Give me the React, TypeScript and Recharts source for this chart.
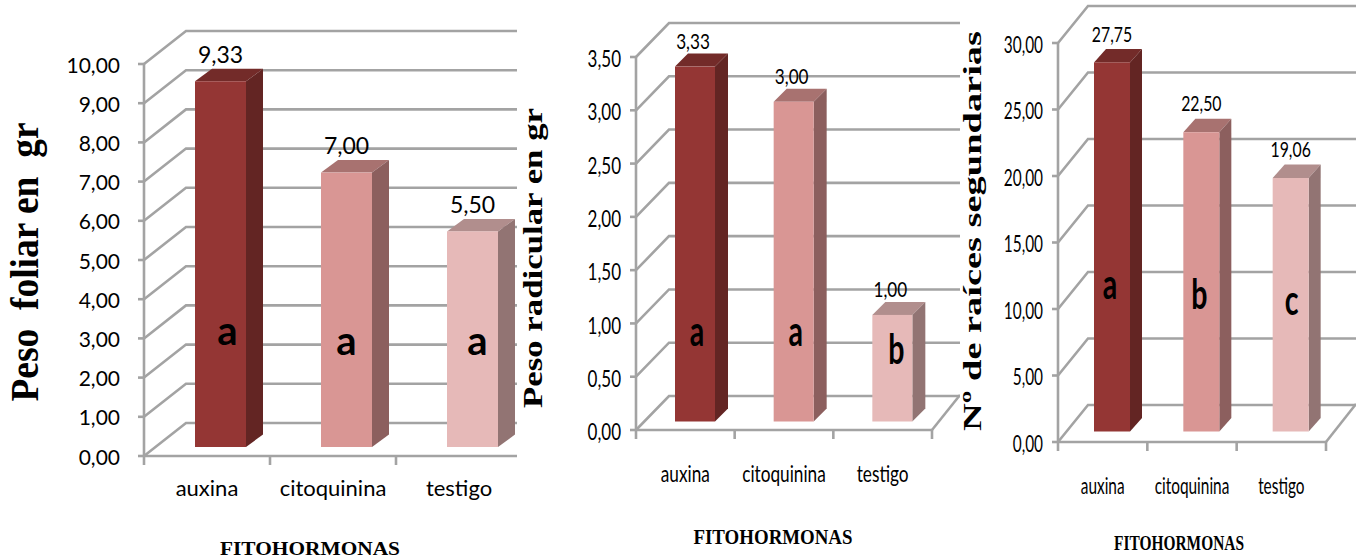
import React from "react";
import { BarChart, Bar, XAxis, YAxis, CartesianGrid } from "recharts";

// Treatments shared by the three panels
const categories = ["auxina", "citoquinina", "testigo"];

// Leaf weight (g)
const foliarValues = [9.33, 7.0, 5.5];
const foliarLetters = ["a", "a", "a"];
const foliarTicks = [0, 1, 2, 3, 4, 5, 6, 7, 8, 9, 10];

// Root weight (g)
const radicularValues = [3.33, 3.0, 1.0];
const radicularLetters = ["a", "a", "b"];
const radicularTicks = [0, 0.5, 1, 1.5, 2, 2.5, 3, 3.5];

// Secondary root count
const raicesValues = [27.75, 22.5, 19.06];
const raicesLetters = ["a", "b", "c"];
const raicesTicks = [0, 5, 10, 15, 20, 25, 30];

const SERIF = "'Liberation Serif', serif";
const SANS = "Lato, sans-serif";
const GRID = "#a3a3a3";
const GRID_WIDTH = 2.6;

// One colour triple per treatment: front, top and side faces of the column
const palette = [
  { front: "#943634", top: "#732b29", side: "#632523" },
  { front: "#d99694", top: "#a87270", side: "#8c5f5e" },
  { front: "#e6b9b8", top: "#b18e8d", side: "#927473" },
];

const comma = (v: number) => v.toFixed(2).replace(".", ",");

type Layout = {
  left: number;
  clipWidth: number;
  svgWidth: number;
  axisX: number;
  bandEnd: number;
  topY: number;
  zeroY: number;
  wallDx: number;
  wallDy: number;
  floorDx: number;
  floorDy: number;
  barWidth: number;
  barShift: number;
  barLift: number;
  depthX: number;
  depthY: number;
  labelGap: number;
  labelDx: number;
  valueSize: number;
  valueSquash: number;
  tickSize: number;
  tickSquash: number;
  tickGap: number;
  tickDy: number;
  catSize: number;
  catSquash: number;
  catY: number;
  letterSize: number;
  letterSquash: number;
  letterDx: number[];
  letterY: number[];
  yTitle: string;
  yTitleX: number;
  yTitleY: number;
  yTitleSize: number;
  yTitleLength: number;
  xTitleX: number;
  xTitleY: number;
  xTitleSize: number;
  xTitleLength: number;
};

const Squeezed = ({ x, y, sx = 1, size, anchor = "middle", weight = 400, children }: any) => (
  <text
    transform={`translate(${x},${y}) scale(${sx},1)`}
    textAnchor={anchor}
    dominantBaseline="central"
    fontFamily={SANS}
    fontSize={size}
    fontWeight={weight}
    fill="#000"
  >
    {children}
  </text>
);

// Draws one pseudo-3D column: its front face comes from the value scale, the other
// two faces are extruded from it.
const Column = (props: any & { layout: Layout; letters: string[] }) => {
  const { x, y, width, height, index, value, layout: l, letters } = props;
  const c = palette[index];
  const fx = x + l.barShift;
  const fy = y - l.barLift;
  const v = Array.isArray(value) ? value[1] : value;
  const right = fx + width;
  const bottom = fy + height;
  const cx = fx + width / 2;
  return (
    <g>
      <polygon
        points={`${fx},${fy} ${fx + l.depthX},${fy - l.depthY} ${right + l.depthX},${fy - l.depthY} ${right},${fy}`}
        fill={c.top}
      />
      <polygon
        points={`${right},${fy} ${right + l.depthX},${fy - l.depthY} ${right + l.depthX},${bottom - l.depthY} ${right},${bottom}`}
        fill={c.side}
      />
      <rect x={fx} y={fy} width={width} height={height} fill={c.front} />
      <Squeezed x={cx + l.labelDx} y={fy - l.depthY - l.labelGap} sx={l.valueSquash} size={l.valueSize}>
        {comma(v)}
      </Squeezed>
      <Squeezed
        x={cx + l.letterDx[index]}
        y={l.letterY[index]}
        sx={l.letterSquash}
        size={l.letterSize}
        weight={700}
      >
        {letters[index]}
      </Squeezed>
    </g>
  );
};

// Each grid level runs from the front axis back along the side wall, then across the back wall.
const gridLevel = (l: Layout, count: number) => (p: any) => {
  const { x1, x2, y1 } = p;
  const isFloor = Math.abs(y1 - l.zeroY) < 1;
  const band = (x2 - x1) / count;
  return (
    <g key={p.key ?? y1}>
      <polyline
        points={`${x1},${y1} ${x1 + l.wallDx},${y1 - l.wallDy} ${x1 + 1000},${y1 - l.wallDy}`}
        fill="none"
        stroke={GRID}
        strokeWidth={GRID_WIDTH}
      />
      {isFloor && (
        <>
          <line x1={x2} y1={y1} x2={x2 + l.floorDx} y2={y1 - l.floorDy} stroke={GRID} strokeWidth={GRID_WIDTH} />
          {Array.from({ length: count + 1 }, (_, i) => (
            <line
              key={i}
              x1={x1 + band * i}
              x2={x1 + band * i}
              y1={y1}
              y2={y1 + 9}
              stroke={GRID}
              strokeWidth={GRID_WIDTH}
            />
          ))}
        </>
      )}
    </g>
  );
};

const Panel = ({
  values,
  letters,
  ticks,
  layout: l,
}: {
  values: number[];
  letters: string[];
  ticks: number[];
  layout: Layout;
}) => {
  const rows = categories.map((name, i) => ({ name, value: values[i] }));
  const yWidth = 80;
  const xHeight = 60;
  const plotLeft = l.axisX - l.left;
  const plotRight = l.bandEnd - l.left;
  return (
    <div
      style={{
        position: "absolute",
        left: l.left,
        top: 0,
        width: l.clipWidth,
        height: 559,
        overflow: "hidden",
      }}
    >
      <BarChart
        width={l.svgWidth}
        height={559}
        data={rows}
        margin={{
          top: l.topY,
          left: plotLeft - yWidth,
          right: l.svgWidth - plotRight,
          bottom: 559 - l.zeroY - xHeight,
        }}
      >
        <CartesianGrid vertical={false} horizontal={gridLevel(l, categories.length) as any} />
        <XAxis
          dataKey="name"
          height={xHeight}
          axisLine={{ stroke: GRID, strokeWidth: GRID_WIDTH }}
          tickLine={false}
          interval={0}
          tick={(p: any) => (
            <Squeezed x={p.x} y={l.catY} sx={l.catSquash} size={l.catSize}>
              {p.payload.value}
            </Squeezed>
          )}
        />
        <YAxis
          type="number"
          width={yWidth}
          domain={[ticks[0], ticks[ticks.length - 1]]}
          ticks={ticks}
          interval={0}
          axisLine={{ stroke: GRID, strokeWidth: GRID_WIDTH }}
          tickLine={{ stroke: GRID, strokeWidth: GRID_WIDTH }}
          tickSize={6}
          tick={(p: any) => (
            <Squeezed
              x={l.axisX - l.left - l.tickGap}
              y={p.y + l.tickDy}
              sx={l.tickSquash}
              size={l.tickSize}
              anchor="end"
            >
              {comma(p.payload.value)}
            </Squeezed>
          )}
        />
        <Bar
          dataKey="value"
          barSize={l.barWidth}
          isAnimationActive={false}
          shape={(p: any) => <Column {...p} layout={l} letters={letters} />}
        />
        <text
          transform={`translate(${l.yTitleX},${l.yTitleY}) rotate(-90)`}
          textAnchor="middle"
          dominantBaseline="central"
          fontFamily={SERIF}
          fontWeight={700}
          fontSize={l.yTitleSize}
          textLength={l.yTitleLength}
          lengthAdjust="spacingAndGlyphs"
          xmlSpace="preserve"
          fill="#000"
        >
          {l.yTitle}
        </text>
        <text
          x={l.xTitleX}
          y={l.xTitleY}
          textAnchor="middle"
          dominantBaseline="central"
          fontFamily={SERIF}
          fontWeight={700}
          fontSize={l.xTitleSize}
          textLength={l.xTitleLength}
          lengthAdjust="spacingAndGlyphs"
          fill="#000"
        >
          FITOHORMONAS
        </text>
      </BarChart>
    </div>
  );
};

const foliarLayout: Layout = {
  left: 0,
  clipWidth: 517,
  svgWidth: 535,
  axisX: 144,
  bandEnd: 522,
  topY: 64,
  zeroY: 456,
  wallDx: 42,
  wallDy: 33,
  floorDx: 42,
  floorDy: 33,
  barWidth: 51,
  barShift: 13,
  barLift: 9,
  depthX: 17,
  depthY: 12.5,
  labelGap: 15,
  labelDx: 0,
  valueSize: 23,
  valueSquash: 1,
  tickSize: 21,
  tickSquash: 1,
  tickGap: 24,
  tickDy: 0,
  catSize: 22,
  catSquash: 1,
  catY: 487,
  letterSize: 40,
  letterSquash: 1,
  letterDx: [7, 0, 5],
  letterY: [330, 340, 340],
  yTitle: "Peso  foliar en  gr",
  yTitleX: 24,
  yTitleY: 262,
  yTitleSize: 41,
  yTitleLength: 279,
  xTitleX: 310,
  xTitleY: 548,
  xTitleSize: 19,
  xTitleLength: 180,
};

const radicularLayout: Layout = {
  left: 505,
  clipWidth: 455,
  svgWidth: 455,
  axisX: 636,
  bandEnd: 932,
  topY: 57,
  zeroY: 430,
  wallDx: 33,
  wallDy: 34,
  floorDx: 28,
  floorDy: 35,
  barWidth: 40,
  barShift: 10,
  barLift: 8.5,
  depthX: 13,
  depthY: 13,
  labelGap: 13,
  labelDx: -2,
  valueSize: 22,
  valueSquash: 0.78,
  tickSize: 23,
  tickSquash: 0.74,
  tickGap: 15,
  tickDy: 1,
  catSize: 23,
  catSquash: 0.75,
  catY: 473,
  letterSize: 42,
  letterSquash: 0.68,
  letterDx: [2, 2, 4],
  letterY: [330, 330, 348],
  yTitle: "Peso radicular en gr",
  yTitleX: 28,
  yTitleY: 258,
  yTitleSize: 27,
  yTitleLength: 300,
  xTitleX: 268,
  xTitleY: 537,
  xTitleSize: 21,
  xTitleLength: 159,
};

const raicesLayout: Layout = {
  left: 945,
  clipWidth: 411,
  svgWidth: 411,
  axisX: 1058,
  bandEnd: 1326,
  topY: 43,
  zeroY: 442,
  wallDx: 30,
  wallDy: 37,
  floorDx: 30,
  floorDy: 38,
  barWidth: 36,
  barShift: 9,
  barLift: 10.5,
  depthX: 12,
  depthY: 13.5,
  labelGap: 16,
  labelDx: 0,
  valueSize: 22,
  valueSquash: 0.72,
  tickSize: 23,
  tickSquash: 0.67,
  tickGap: 15,
  tickDy: 1,
  catSize: 23,
  catSquash: 0.67,
  catY: 485,
  letterSize: 42,
  letterSquash: 0.68,
  letterDx: [-2, -2, 1],
  letterY: [283, 293, 299],
  yTitle: "Nº de raíces segundarias",
  yTitleX: 27,
  yTitleY: 231,
  yTitleSize: 26,
  yTitleLength: 400,
  xTitleX: 234,
  xTitleY: 543,
  xTitleSize: 21,
  xTitleLength: 130,
};

export default function App() {
  return (
    <div style={{ position: "absolute", left: 0, top: 0, width: 1356, height: 559, background: "#fff", overflow: "hidden" }}>
      <Panel values={foliarValues} letters={foliarLetters} ticks={foliarTicks} layout={foliarLayout} />
      <Panel values={radicularValues} letters={radicularLetters} ticks={radicularTicks} layout={radicularLayout} />
      <Panel values={raicesValues} letters={raicesLetters} ticks={raicesTicks} layout={raicesLayout} />
    </div>
  );
}
